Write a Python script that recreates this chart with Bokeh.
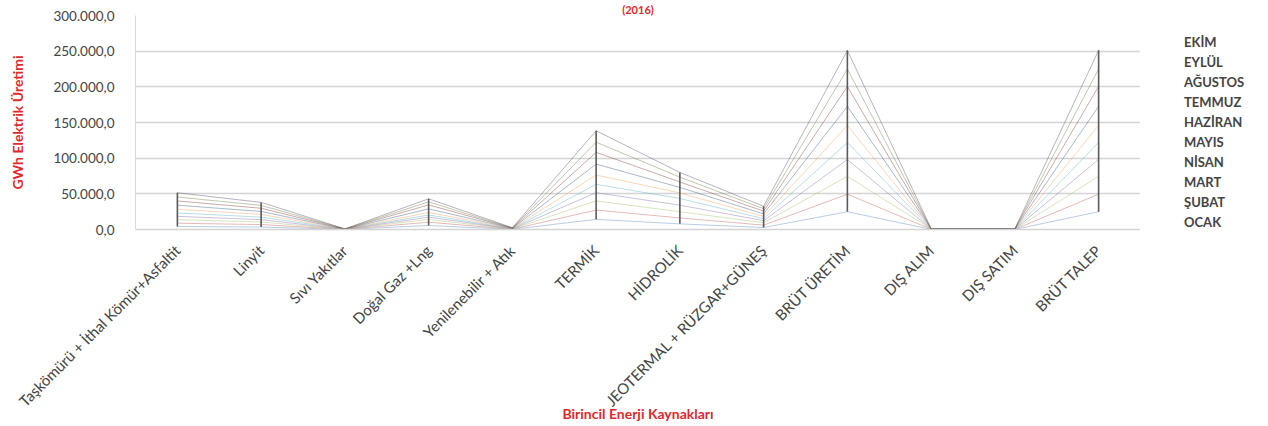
import numpy as np
from math import pi
from bokeh.plotting import figure
from bokeh.layouts import row
from bokeh.models import Legend, LegendItem, CustomJSTickFormatter, FixedTicker, Title, Range1d
from bokeh.embed import file_html
from bokeh.resources import INLINE

categories = ["Taşkömürü + İthal Kömür+Asfaltit", "Linyit", "Sıvı Yakıtlar", "Doğal Gaz +Lng",
              "Yenilenebilir + Atık", "TERMİK", "HİDROLİK", "JEOTERMAL + RÜZGAR+GÜNEŞ",
              "BRÜT ÜRETİM", "DIŞ ALIM", "DIŞ SATIM", "BRÜT TALEP"]
months = ["OCAK", "ŞUBAT", "MART", "NİSAN", "MAYIS", "HAZİRAN", "TEMMUZ", "AĞUSTOS", "EYLÜL", "EKİM"]

# monthly values (GWh), one per category
ocak = [4300, 3400, 100, 5600, 220, 14200, 7900, 2800, 24900, 200, 150, 24950]
subat = [4500, 3500, 90, 4600, 220, 13000, 8300, 3300, 24600, 150, 120, 24630]
mart = [5000, 3600, 100, 3900, 240, 12900, 8700, 3400, 25000, 150, 100, 25050]
nisan = [4600, 3300, 80, 3200, 230, 11500, 9200, 2900, 23600, 100, 100, 23600]
mayis = [4800, 3500, 80, 3000, 240, 11700, 9400, 2800, 23900, 100, 100, 23900]
haziran = [5200, 3800, 90, 3600, 250, 13000, 7800, 3100, 23900, 100, 100, 23900]
temmuz = [5700, 4200, 100, 5000, 270, 15400, 7700, 3600, 26700, 120, 100, 26720]
agustos = [5900, 4500, 100, 5600, 270, 16500, 7600, 3800, 27900, 120, 120, 27900]
eylul = [5500, 4000, 80, 4200, 260, 14200, 6800, 3400, 24400, 100, 120, 24380]
ekim = [6000, 4200, 80, 4300, 280, 16100, 6600, 3400, 26100, 100, 100, 26100]

series = [ocak, subat, mart, nisan, mayis, haziran, temmuz, agustos, eylul, ekim]
colors = ["#4F81BD", "#C0504D", "#9BBB59", "#8064A2", "#4BACC6", "#F79646",
          "#2C4D75", "#772C2A", "#5F7530", "#4D3B62"]
y_ticks = [0, 50000, 100000, 150000, 200000, 250000, 300000]

cum = np.cumsum(np.array(series, dtype=float), axis=0)

FONT = "Lato"
RED = "#e0282e"
TXT = "#444444"

p = figure(x_range=categories, y_range=(0, 300000), width=1140, height=426,
           output_backend="svg", toolbar_location=None,
           min_border_left=135, min_border_right=0, min_border_top=15, min_border_bottom=197)
p.outline_line_color = None
p.xgrid.grid_line_color = None
p.ygrid.grid_line_color = "#d4d4d4"
p.ygrid.grid_line_width = 1.3
p.ygrid.ticker = FixedTicker(ticks=y_ticks)

p.title = Title(text="(2016)", align="center", offset=-22, standoff=0,
                text_font=FONT, text_font_size="11px", text_font_style="bold",
                text_color=RED, vertical_align="bottom")

p.yaxis.ticker = FixedTicker(ticks=y_ticks)
p.yaxis.formatter = CustomJSTickFormatter(code="""
const s = tick.toFixed(1).split('.');
return s[0].replace(/\\B(?=(\\d{3})+(?!\\d))/g, '.') + ',' + s[1];
""")
for ax in (p.xaxis[0], p.yaxis[0]):
    ax.major_tick_line_color = None
    ax.minor_tick_line_color = None
    ax.major_label_text_font = FONT
    ax.major_label_text_color = TXT
    ax.axis_label_text_font = FONT
    ax.axis_label_text_color = RED
    ax.axis_label_text_font_style = "bold"
    ax.axis_label_text_font_size = "14px"
p.yaxis.axis_line_color = "#d9d9d9"
p.xaxis.axis_line_color = "#d4d4d4"
p.xaxis.axis_line_width = 1.3
p.yaxis.major_label_text_font_size = "13.5px"
p.yaxis.major_label_standoff = 15
p.yaxis.axis_label = "GWh Elektrik Üretimi"
p.yaxis.axis_label_standoff = 24
p.xaxis.major_label_text_font_size = "15px"
p.xaxis.major_label_orientation = pi / 4
p.xaxis.major_label_standoff = 12
p.xaxis.axis_label = "Birincil Enerji Kaynakları"
p.xaxis.axis_label_standoff = -14

for i in range(len(series)):
    p.line(categories, cum[i], line_color=colors[i], line_alpha=0.4, line_width=1)

p.segment(x0=categories, y0=cum[0], x1=categories, y1=cum[-1],
          line_color="#5a5a5a", line_width=1.6)

# legend panel to the right of the plot (its frame is aligned with the main frame)
lg = figure(width=128, height=426, output_backend="svg", toolbar_location=None,
            x_range=Range1d(0, 1), y_range=Range1d(0, 1),
            x_axis_type=None, y_axis_type=None,
            min_border_left=0, min_border_right=0, min_border_top=15, min_border_bottom=197)
lg.outline_line_color = None
lg.xgrid.visible = False
lg.ygrid.visible = False
items = []
for i in reversed(range(len(months))):
    r = lg.line([], [], line_color="#666666", line_width=1.4)
    items.append(LegendItem(label=months[i], renderers=[r]))
legend = Legend(items=items, location=(34, -3), glyph_width=9, glyph_height=20,
                label_height=20, spacing=0, padding=0, margin=0, label_standoff=1,
                border_line_color=None, background_fill_alpha=0,
                label_text_font=FONT, label_text_font_size="13px",
                label_text_color=TXT, label_text_font_style="bold")
lg.add_layout(legend)

layout = row(p, lg)
open("out.html", "w").write(file_html(layout, INLINE))
